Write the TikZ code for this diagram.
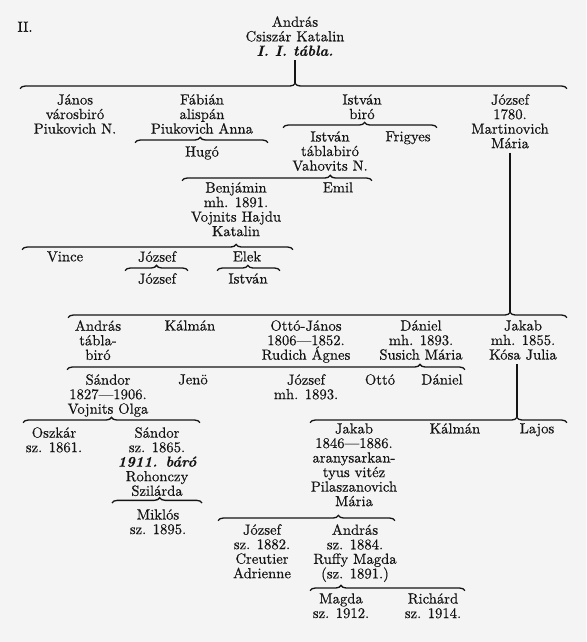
\documentclass[tikz,border=0pt]{standalone}
\usepackage{fontspec}
\usepackage{tikz}
\usetikzlibrary{
  decorations.pathreplacing,
  positioning
}
\definecolor{Paper}{RGB}{244, 244, 244}
\definecolor{Ink}{RGB}{20, 20, 20}
\newfontfamily\printfont{Latin Modern Roman}[FakeBold=0.4, Ligatures=TeX]
\tikzset{
    who/.style={align=center, inner sep=0pt, anchor=north, text=Ink,
        font=\printfont\fontsize{11}{10.9}\selectfont},
    kin/.style={draw=Ink, line width=1pt, decorate,
        decoration={brace, amplitude=4pt, aspect=#1}},
    kin/.default=0.5,
    stem/.style={draw=Ink, line width=1pt}
}

\begin{document}
\begin{tikzpicture}[x=0.75pt, y=-0.75pt]
    \fill[Paper] (0,0) rectangle (586,642);
    \useasboundingbox (0,0) rectangle (586,642);

    % first generations
    \node[who] (ii) at (25,21.5) {II.};
    \node[who] (andras) at (295,16) {András\\Csiszár Katalin\\\textbf{\textit{I. I. tábla.}}};
    \coordinate (c1) at (295,83.3);
    \draw[stem] (andras.south) ++(0,4) -- (c1);
    \draw[kin=0.503] (20,88.7) -- (567,88.7);

    \node[who] (janos) at (75,94) {János\\városbiró\\Piukovich N.};
    \node[who] (fabian) at (202,94) {Fábián\\alispán\\Piukovich Anna};
    \node[who] (istvan) at (362,94) {István\\biró};
    \node[who] (jozsefm) at (510,94) {József\\1780.\\Martinovich\\Mária};

    \draw[kin=0.49] (135,142.7) -- (268,142.7);
    \node[who] (hugo) at (202,146) {Hugó};
    \draw[kin=0.53] (283,127.7) -- (437,127.7);
    \node[who] (istvant) at (330,131) {István\\táblabiró\\Vahovits N.};
    \node[who] (frigyes) at (408,131) {Frigyes};

    \draw[kin=0.78] (182,180.7) -- (372,180.7);
    \node[who] (benjamin) at (236,182) {Benjámin\\mh. 1891.\\Vojnits Hajdu\\Katalin};
    \node[who] (emil) at (338,182) {Emil};

    \draw[kin=0.79] (22,249.7) -- (293,249.7);
    \node[who] (vince) at (65,251) {Vince};
    \node[who] (jozsefb) at (157,251) {József};
    \node[who] (elek) at (247,251) {Elek};
    \draw[kin=0.5] (125,270.7) -- (188,270.7);
    \draw[kin=0.49] (217,270.7) -- (280,270.7);
    \node[who] (jozsefc) at (157,273) {József};
    \node[who] (istvanc) at (248,273) {István};

    % line of Jozsef
    \coordinate (c8) at (510,312.3);
    \draw[stem] (jozsefm.south) ++(0,4) -- (c8);
    \draw[kin=0.886] (68,317.7) -- (567,317.7);

    \node[who] (andrast) at (98,320) {András\\tábla-\\biró};
    \node[who] (kalman) at (190,320) {Kálmán};
    \node[who] (ottojanos) at (306,320) {Ottó-János\\1806—1852.\\Rudich Ágnes};
    \node[who] (daniel) at (421,320) {Dániel\\mh. 1893.\\Susich Mária};
    \node[who] (jakabm) at (523,320) {Jakab\\mh. 1855.\\Kósa Julia};

    \draw[kin=0.887] (67,369.7) -- (465,369.7);
    \node[who] (sandor) at (108,374) {Sándor\\1827—1906.\\Vojnits Olga};
    \node[who] (jeno) at (193,374) {Jenö};
    \node[who] (jozsefd) at (306,374) {József\\mh. 1893.};
    \node[who] (otto) at (380,374) {Ottó};
    \node[who] (danielb) at (442,374) {Dániel};

    \draw[kin=0.5] (23,422.7) -- (200,422.7);
    \node[who] (oszkar) at (54,427) {Oszkár\\sz. 1861.};
    \node[who] (sandorb) at (157,427) {Sándor\\sz. 1865.\\\textbf{\textit{1911. báró}}\\Rohonczy\\Szilárda};
    \draw[kin=0.53] (112,503) -- (202,503);
    \node[who] (miklos) at (158,509) {Miklós\\sz. 1895.};

    % line of Jakab
    \coordinate (c11) at (517,417.3);
    \draw[stem] (jakabm.south -| c11) ++(0,4) -- (c11);
    \draw[kin=0.805] (310,422.7) -- (567,422.7);
    \node[who] (jakabb) at (354,423) {Jakab\\1846—1886.\\aranysarkan-\\tyus vitéz\\Pilaszanovich\\Mária};
    \node[who] (kalmanb) at (455,423) {Kálmán};
    \node[who] (lajos) at (537,423) {Lajos};

    \draw[kin=0.68] (218,520.7) -- (395,520.7);
    \node[who] (jozsefe) at (262,524) {József\\sz. 1882.\\Creutier\\Adrienne};
    \node[who] (andrasb) at (355,524) {András\\sz. 1884.\\Ruffy Magda\\(sz. 1891.)};

    \draw[kin=0.2] (310,590.7) -- (465,590.7);
    \node[who] (magda) at (341,593) {Magda\\sz. 1912.};
    \node[who] (richard) at (433,593) {Richárd\\sz. 1914.};
\end{tikzpicture}
\end{document}
